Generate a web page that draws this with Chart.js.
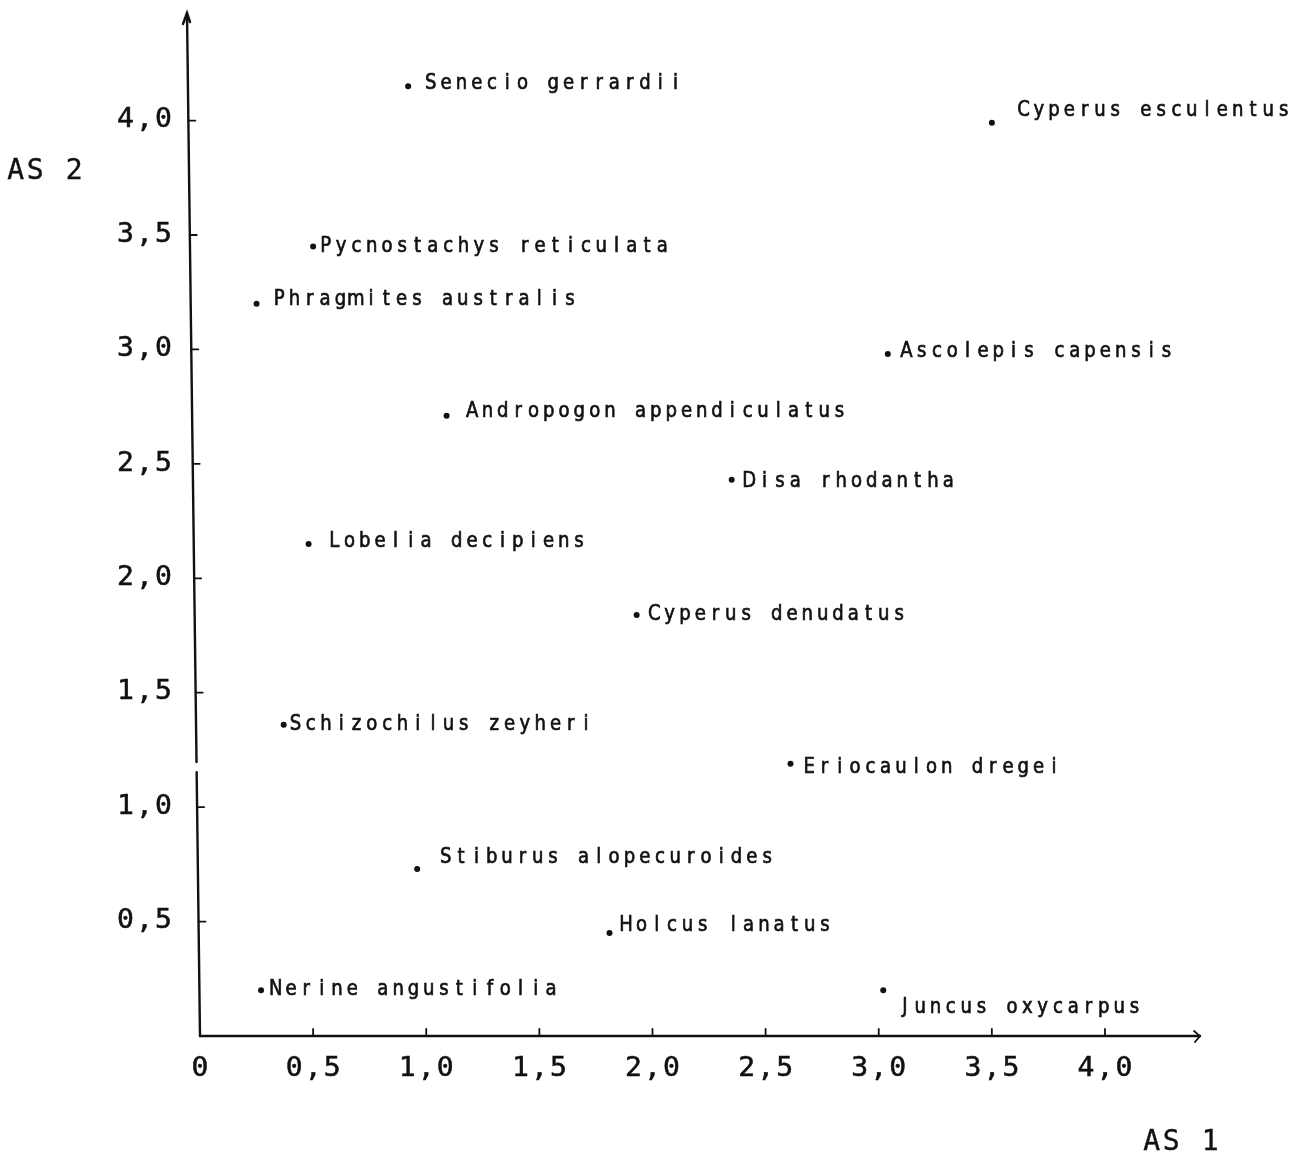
<!DOCTYPE html>
<html lang="en">
<head>
<meta charset="UTF-8" />
<title>AS 1 / AS 2 species ordination</title>
<script src="https://cdn.jsdelivr.net/npm/chart.js"></script>
<style>
    html, body { margin: 0; padding: 0; background: #fff; }
    #wrap { width: 1297px; height: 1159px; position: relative; }
</style>
</head>
<body>
<div id="wrap"><canvas id="ordChart"></canvas></div>
<script>
    // species and their scores on the two axes
    const species = [
        'Senecio gerrardii', 'Cyperus esculentus', 'Pycnostachys reticulata', 'Phragmites australis',
        'Ascolepis capensis', 'Andropogon appendiculatus', 'Disa rhodantha', 'Lobelia decipiens',
        'Cyperus denudatus', 'Schizochilus zeyheri', 'Eriocaulon dregei', 'Stiburus alopecuroides',
        'Holcus lanatus', 'Nerine angustifolia', 'Juncus oxycarpus'
    ];
    const as1 = [0.92, 3.50, 0.50, 0.25, 3.04, 1.09, 2.35, 0.48, 1.93, 0.37, 2.61, 0.96, 1.81, 0.27, 3.02];
    const as2 = [4.15, 3.99, 3.45, 3.20, 2.98, 2.71, 2.43, 2.15, 1.84, 1.36, 1.19, 0.73, 0.45, 0.20, 0.20];

    const xTicks = [0, 0.5, 1.0, 1.5, 2.0, 2.5, 3.0, 3.5, 4.0];
    const yTicks = [0.5, 1.0, 1.5, 2.0, 2.5, 3.0, 3.5, 4.0];
    const xTitle = 'AS 1';
    const yTitle = 'AS 2';

    // where each name sits relative to its dot (px), typed layout of the original
    const labelNudge = {
        'Senecio gerrardii': [15, -3], 'Cyperus esculentus': [24, -12], 'Pycnostachys reticulata': [5, 0],
        'Phragmites australis': [15, -4], 'Ascolepis capensis': [11, -2], 'Andropogon appendiculatus': [18, -4],
        'Disa rhodantha': [10, 2], 'Lobelia decipiens': [18, -2], 'Cyperus denudatus': [10, 0],
        'Schizochilus zeyheri': [4, 0], 'Eriocaulon dregei': [11, 4], 'Stiburus alopecuroides': [21, -11],
        'Holcus lanatus': [9, -7], 'Nerine angustifolia': [7, -1], 'Juncus oxycarpus': [14, 17]
    };

    const fmt = v => v === 0 ? '0' : v.toFixed(1).replace('.', ',');

    // typewriter style: every character in a fixed-width slot
    function typed(ctx, text, x, y, pitch, align, squeeze, ink) {
        let left = x;
        if (align === 'right') left = x - pitch * text.length;
        if (align === 'center') left = x - pitch * text.length / 2;
        ctx.textAlign = 'center';
        ctx.textBaseline = 'middle';
        for (let i = 0; i < text.length; i++) {
            const cx = left + pitch * (i + 0.5);
            ctx.save();
            ctx.translate(cx, y);
            ctx.scale(squeeze || 1, 1);
            ctx.fillText(text[i], 0, 0);
            if (ink) {
                ctx.lineWidth = ink;
                ctx.strokeText(text[i], 0, 0);
            }
            ctx.restore();
        }
    }

    const typedAxes = {
        id: 'typedAxes',
        afterDatasetsDraw(chart) {
            const ctx = chart.ctx;
            const xs = chart.scales.x;
            const ys = chart.scales.y;
            const area = chart.chartArea;
            const x0 = xs.getPixelForValue(0);
            const y0 = ys.getPixelForValue(0);
            const lean = 13; // the vertical axis leans a little to the left at the top
            const axisX = py => x0 - lean * (y0 - py) / (y0 - area.top);

            ctx.save();
            ctx.strokeStyle = '#111';
            ctx.fillStyle = '#111';
            ctx.lineWidth = 2.4;
            ctx.lineCap = 'round';

            // y axis, with the small break near 1.2
            const bTop = ys.getPixelForValue(1.197);
            const bBot = ys.getPixelForValue(1.153);
            ctx.beginPath();
            ctx.moveTo(axisX(area.top), area.top);
            ctx.lineTo(axisX(bTop), bTop);
            ctx.moveTo(axisX(bBot), bBot);
            ctx.lineTo(x0, y0);
            ctx.stroke();

            // y arrow head
            const ax = axisX(area.top);
            ctx.beginPath();
            ctx.moveTo(ax - 4, area.top + 11);
            ctx.lineTo(ax, area.top);
            ctx.lineTo(ax + 3, area.top + 9);
            ctx.stroke();

            // x axis and arrow head
            ctx.beginPath();
            ctx.moveTo(x0, y0);
            ctx.lineTo(area.right, y0);
            ctx.stroke();
            ctx.lineWidth = 1.8;
            ctx.beginPath();
            ctx.moveTo(area.right - 6, y0 - 5);
            ctx.lineTo(area.right, y0);
            ctx.lineTo(area.right - 5, y0 + 6);
            ctx.stroke();

            // ticks
            ctx.lineWidth = 1.8;
            xTicks.forEach(v => {
                if (v === 0) return;
                const px = xs.getPixelForValue(v);
                ctx.beginPath();
                ctx.moveTo(px, y0);
                ctx.lineTo(px, y0 - 7);
                ctx.stroke();
            });
            yTicks.forEach(v => {
                const py = ys.getPixelForValue(v);
                const a = axisX(py);
                ctx.beginPath();
                ctx.moveTo(a, py);
                ctx.lineTo(a + 7, py);
                ctx.stroke();
            });

            // tick labels
            ctx.font = '26px "DejaVu Sans Mono", monospace';
            xTicks.forEach(v => {
                typed(ctx, fmt(v), xs.getPixelForValue(v), y0 + 33, 19, 'center', 1.08, 0.5);
            });
            yTicks.forEach(v => {
                typed(ctx, fmt(v), x0 - 27, ys.getPixelForValue(v), 19, 'right', 1.08, 0.5);
            });

            // axis titles
            ctx.font = '28px "DejaVu Sans Mono", monospace';
            typed(ctx, yTitle, 6, ys.getPixelForValue(3.775), 19.5, 'left', 1, 0.4);
            typed(ctx, xTitle, area.right + 20, y0 + 107, 19.5, 'right', 1, 0.4);

            // species names
            ctx.font = '21px "DejaVu Sans", sans-serif';
            const meta = chart.getDatasetMeta(0);
            meta.data.forEach((pt, i) => {
                const n = labelNudge[species[i]] || [10, 0];
                typed(ctx, species[i], pt.x + n[0], pt.y + n[1], 15.3, 'left', 0.86, 0.7);
            });
            ctx.restore();
        }
    };

    new Chart(document.getElementById('ordChart'), {
        type: 'scatter',
        data: {
            datasets: [{
                label: 'Species',
                data: as1.map((v, i) => ({ x: v, y: as2[i] })),
                backgroundColor: '#111',
                borderWidth: 0,
                pointRadius: 3
            }]
        },
        options: {
            responsive: true,
            maintainAspectRatio: false,
            animation: false,
            layout: { padding: { left: 200, right: 97, top: 13, bottom: 123 } },
            scales: {
                x: { type: 'linear', min: 0, max: 4.42, display: false },
                y: { type: 'linear', min: 0, max: 4.47, display: false }
            },
            plugins: { legend: { display: false }, tooltip: { enabled: false } }
        },
        plugins: [typedAxes]
    });
</script>
</body>
</html>
